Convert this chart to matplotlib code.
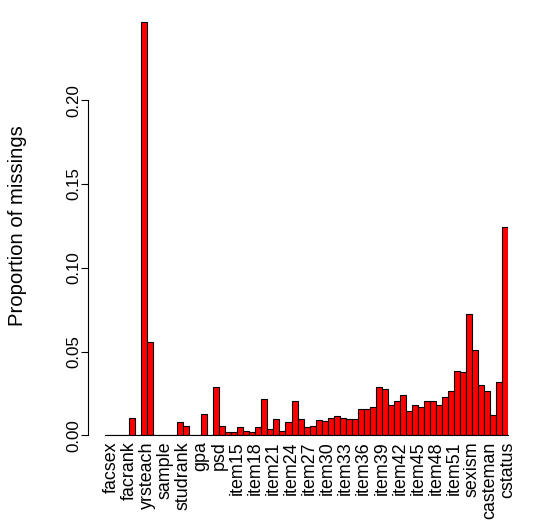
import matplotlib
matplotlib.use('Agg')
import matplotlib.pyplot as plt
import matplotlib.transforms as mtransforms

plt.rcParams['font.family'] = ['Liberation Sans', 'DejaVu Sans']

# variable names (only every third one is readable on the axis, the rest are left blank)
variables = ['facsex', '', '', 'facrank', '', '', 'yrsteach', '', '', 'sample', '', '',
             'studrank', '', '', 'gpa', '', '', 'psd'] + \
            ['item%d' % k for k in range(13, 54)] + \
            ['sexism', '', '', 'casteman', '', '', 'cstatus']

# proportion of missing values per variable
missing = [0, 0, 0, 0, 0.0102, 0, 0.247, 0.0556, 0, 0,
           0, 0, 0.0078, 0.0054, 0, 0, 0.0126, 0, 0.0286, 0.0058,
           0.0022, 0.0022, 0.0052, 0.0028, 0.0022, 0.0052, 0.0219, 0.0040, 0.0095, 0.0028,
           0.0077, 0.0207, 0.0095, 0.0052, 0.0058, 0.0089, 0.0083, 0.0106, 0.0118, 0.0106,
           0.0095, 0.0095, 0.0155, 0.0155, 0.0167, 0.0287, 0.0275, 0.0179, 0.0203, 0.0239,
           0.0143, 0.0179, 0.0167, 0.0203, 0.0203, 0.0179, 0.0227, 0.0263, 0.0382, 0.0376,
           0.0722, 0.0507, 0.0299, 0.0263, 0.0119, 0.0316, 0.1242]

yticks = [0.0, 0.05, 0.10, 0.15, 0.20]

W, H = 534, 525
fig = plt.figure(figsize=(W / 100, H / 100), dpi=100)
ax = fig.add_axes([104.9 / W, (H - 435.3) / H, 403.3 / W, 418.75 / H])

n = len(missing)
ax.bar(range(n), missing, width=1.0, align='edge', color='#ff0000',
       edgecolor='black', linewidth=0.8)
ax.set_xlim(0, n)
ax.set_ylim(0, 0.25)

# R style axes
ax.spines['top'].set_visible(False)
ax.spines['right'].set_visible(False)
ax.spines['left'].set_position(('outward', 11.95))
ax.spines['left'].set_bounds(0, 0.20)
ax.spines['left'].set_linewidth(0.8)
ax.spines['bottom'].set_linewidth(0.8)

ax.set_yticks(yticks)
ax.set_yticklabels(['%.2f' % v for v in yticks], rotation=90, va='center', fontsize=12.2)
ax.tick_params(axis='y', length=4.8, width=0.8, pad=0.3)

ax.set_xticks([i + 0.5 for i in range(0, n, 3)])
ax.set_xticklabels(variables[::3], rotation=90, fontsize=12.9)
ax.tick_params(axis='x', length=0, pad=4.3)
shift = mtransforms.ScaledTranslation(3 / 100, 0, fig.dpi_scale_trans)
for lab in ax.get_xticklabels():
    lab.set_transform(lab.get_transform() + shift)

fig.text(17.5 / W, 1 - 226 / H, 'Proportion of missings', rotation=90,
         ha='center', va='center', fontsize=14.6)

fig.savefig('out.png', dpi=100)
